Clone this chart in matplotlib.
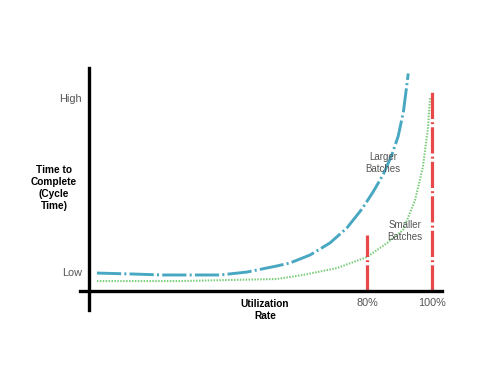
import matplotlib
matplotlib.use("Agg")
import matplotlib.pyplot as plt

plt.rcParams['font.family'] = ['Liberation Sans', 'DejaVu Sans']

# utilization (%) vs time to complete (arbitrary units)
large_x = [-3.1, 7.1, 17.2, 27.7, 34.8, 43.1, 52.3, 56.3, 62.5, 68.6, 73.8, 78.4, 81.9, 85.0, 87.6, 89.6, 91.2, 92.7]
large_y = [1.03, 0.98, 0.92, 0.92, 0.92, 1.09, 1.44, 1.61, 2.07, 2.76, 3.62, 4.70, 5.70, 6.70, 7.80, 8.90, 10.3, 12.5]

small_x = [-3.1, 22.5, 52.3, 60.3, 70.8, 80.0, 86.2, 91.1, 94.8, 97.2, 98.8, 99.4]
small_y = [0.57, 0.57, 0.69, 0.92, 1.32, 1.95, 2.76, 3.51, 5.23, 7.13, 9.43, 11.15]

limit_x = [80, 100]
limit_top = [3.2, 11.55]

y_ticks = [1.1, 11.1]
y_labels = ["Low", "High"]
x_labels = ["80%", "100%"]

fig = plt.figure(figsize=(5, 3.83), dpi=100)
ax = fig.add_axes([0.16, 0.1854, 0.73, 0.658])
ax.set_xlim(-8.31, 104.0)
ax.set_ylim(-1.207, 13.276)

blue = '#48a8c2'
green = '#78cc78'
red = '#e84848'

ax.plot(large_x, large_y, color=blue, lw=2.1, ls=(0, (8.3, 1.1, 0.7, 1.1)))
ax.plot(small_x, small_y, color=green, lw=1.5, ls=(0, (0.7, 0.7)))
ax.vlines(limit_x, 0, limit_top, color=red, lw=2.3, linestyles=[(0, (8.2, 1.0, 0.6, 1.0))])

for s in ['top', 'right']:
    ax.spines[s].set_visible(False)
ax.spines['left'].set_position(('data', -5.54))
ax.spines['left'].set_bounds(-1.09, 12.8)
ax.spines['bottom'].set_position(('data', 0))
ax.spines['bottom'].set_bounds(-8.31, 103.1)
for s in ['left', 'bottom']:
    ax.spines[s].set_linewidth(2.4)
    ax.spines[s].set_color('black')

ax.set_yticks(y_ticks)
ax.set_yticklabels(y_labels)
ax.set_xticks(limit_x)
ax.set_xticklabels(x_labels)
ax.tick_params(length=0, labelsize=7.8, colors='#555555', pad=5)

ax.text(84.9, 7.36, "Larger\nBatches", fontsize=7, color='#555555', ha='center', va='center', linespacing=1.2)
ax.text(91.7, 3.45, "Smaller\nBatches", fontsize=7, color='#555555', ha='center', va='center', linespacing=1.2)
ax.text(48.6, -1.09, "Utilization\nRate", fontsize=7.3, fontweight='bold', ha='center', va='center',
        linespacing=1.3, clip_on=False)
ax.text(-16.3, 5.9, "Time to\nComplete\n(Cycle\nTime)", fontsize=7.3, fontweight='bold', ha='center',
        va='center', linespacing=1.25, clip_on=False)

fig.savefig("out.png", dpi=100)
